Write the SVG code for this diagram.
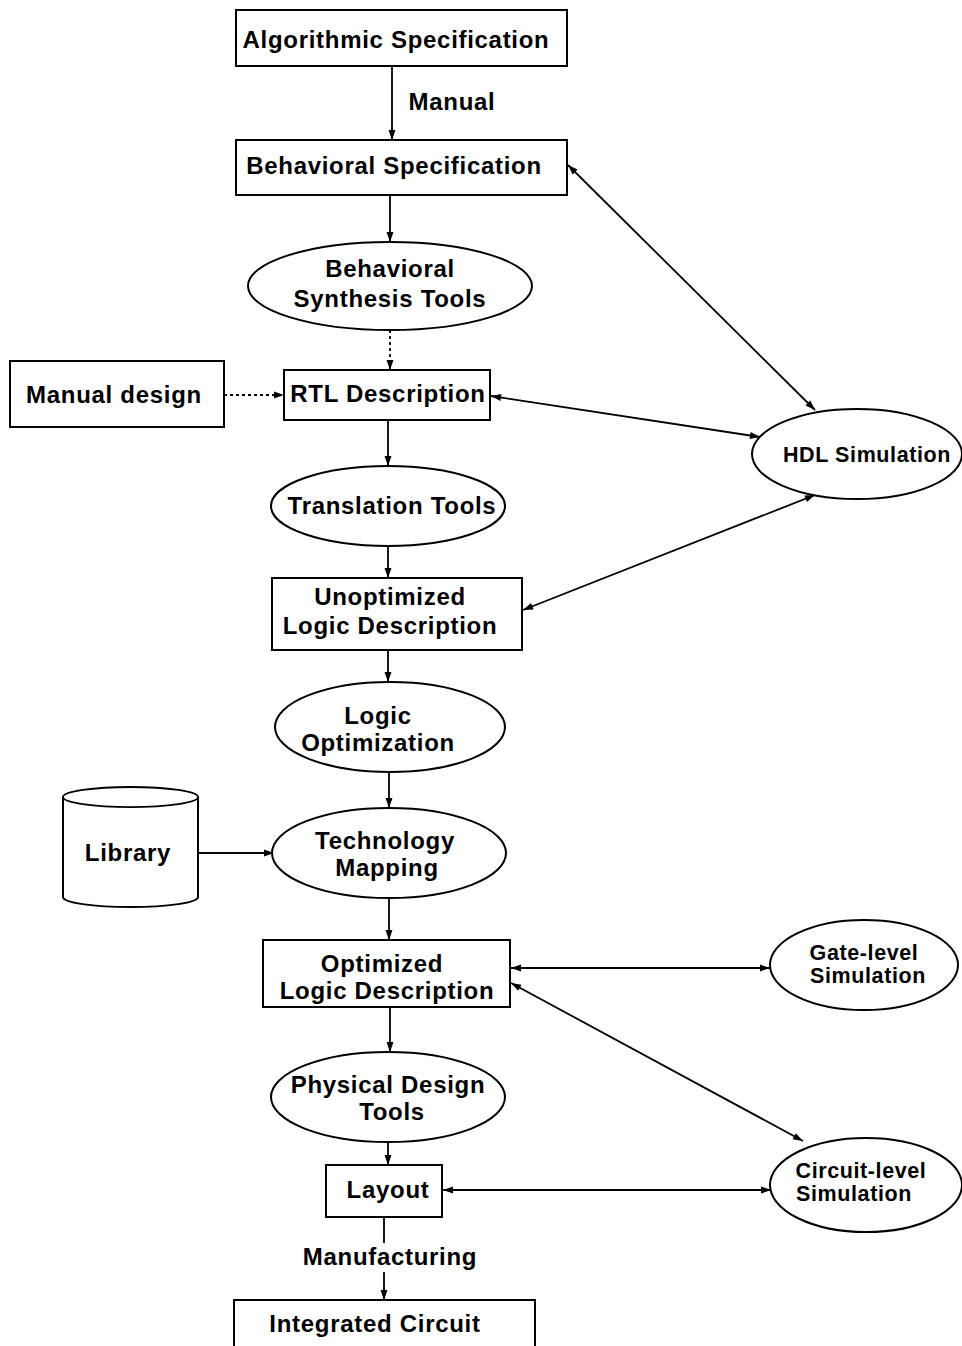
<svg xmlns="http://www.w3.org/2000/svg" width="962" height="1346" viewBox="0 0 962 1346">
<defs>
<style>
.n{fill:#fff;stroke:#000;stroke-width:2}
.t{font-family:"Liberation Sans",Arial,sans-serif;font-weight:bold;font-size:24px;letter-spacing:0.7px;fill:#000;text-anchor:middle}
.s{font-size:21.5px;letter-spacing:0.6px}
.c{fill:none;stroke:#000;stroke-width:1.8}
.d{stroke-dasharray:3,3}
</style>
<marker id="b" viewBox="0 0 10 10" refX="10" refY="5" markerWidth="15" markerHeight="10" orient="auto-start-reverse" markerUnits="userSpaceOnUse">
<path d="M0,1.5 L10,5 L0,8.5 z" fill="#000"/>
</marker>
</defs>
<rect width="962" height="1346" fill="#fff"/>
<g id="connectors">
<line class="c" x1="392" y1="66" x2="392" y2="140" marker-end="url(#b)"/>
<line class="c" x1="390" y1="195" x2="390" y2="242" marker-end="url(#b)"/>
<line class="c d" x1="390" y1="330" x2="390" y2="370" marker-end="url(#b)"/>
<line class="c d" x1="224" y1="395" x2="284" y2="395" marker-end="url(#b)"/>
<line class="c" x1="388" y1="420" x2="388" y2="466" marker-end="url(#b)"/>
<line class="c" x1="388" y1="546" x2="388" y2="578" marker-end="url(#b)"/>
<line class="c" x1="388" y1="650" x2="388" y2="682" marker-end="url(#b)"/>
<line class="c" x1="389" y1="772" x2="389" y2="808" marker-end="url(#b)"/>
<line class="c" x1="198" y1="853" x2="274" y2="853" marker-end="url(#b)"/>
<line class="c" x1="389" y1="898" x2="389" y2="940" marker-end="url(#b)"/>
<line class="c" x1="390" y1="1007" x2="390" y2="1052" marker-end="url(#b)"/>
<line class="c" x1="388" y1="1142" x2="388" y2="1165" marker-end="url(#b)"/>
<line class="c" x1="384" y1="1217" x2="384" y2="1243"/>
<line class="c" x1="384" y1="1272" x2="384" y2="1300" marker-end="url(#b)"/>
<line class="c" x1="568" y1="165" x2="815" y2="410" marker-start="url(#b)" marker-end="url(#b)"/>
<line class="c" x1="491" y1="396" x2="760" y2="437" marker-start="url(#b)" marker-end="url(#b)"/>
<line class="c" x1="523" y1="610" x2="815" y2="495" marker-start="url(#b)" marker-end="url(#b)"/>
<line class="c" x1="511" y1="968" x2="770" y2="968" marker-start="url(#b)" marker-end="url(#b)"/>
<line class="c" x1="511" y1="983" x2="803" y2="1141" marker-start="url(#b)" marker-end="url(#b)"/>
<line class="c" x1="443" y1="1190" x2="771" y2="1190" marker-start="url(#b)" marker-end="url(#b)"/>
<text class="t" x="452" y="110">Manual</text>
<text class="t" x="390" y="1265">Manufacturing</text>
</g>
<g id="algo"><rect class="n" x="236" y="10" width="331" height="56"/><text class="t" x="396" y="48">Algorithmic Specification</text></g>
<g id="behav"><rect class="n" x="236" y="140" width="331" height="55"/><text class="t" x="394" y="174">Behavioral Specification</text></g>
<g id="bst"><ellipse class="n" cx="390" cy="286" rx="142" ry="44"/><text class="t" x="390" y="277">Behavioral</text><text class="t" x="390" y="307">Synthesis Tools</text></g>
<g id="manual"><rect class="n" x="10" y="361" width="214" height="66"/><text class="t" x="114" y="403">Manual design</text></g>
<g id="rtl"><rect class="n" x="284" y="370" width="206" height="50"/><text class="t" x="388" y="402">RTL Description</text></g>
<g id="hdl"><ellipse class="n" cx="857" cy="454" rx="105" ry="45"/><text class="t s" x="867" y="462">HDL Simulation</text></g>
<g id="trans"><ellipse class="n" cx="388" cy="506" rx="117" ry="40"/><text class="t" x="392" y="514">Translation Tools</text></g>
<g id="unopt"><rect class="n" x="272" y="578" width="250" height="72"/><text class="t" x="390" y="605">Unoptimized</text><text class="t" x="390" y="634">Logic Description</text></g>
<g id="lopt"><ellipse class="n" cx="390" cy="727" rx="115" ry="45"/><text class="t" x="378" y="724">Logic</text><text class="t" x="378" y="751">Optimization</text></g>
<g id="lib"><path class="n" d="M63,797 A67,10 0 0 1 198,797 L198,897 A67,10 0 0 1 63,897 Z"/><path class="c" d="M63,797 A67,10 0 0 0 198,797"/><text class="t" x="128" y="861">Library</text></g>
<g id="tmap"><ellipse class="n" cx="389" cy="853" rx="117" ry="45"/><text class="t" x="385" y="849">Technology</text><text class="t" x="387" y="876">Mapping</text></g>
<g id="opt"><rect class="n" x="263" y="940" width="247" height="67"/><text class="t" x="382" y="972">Optimized</text><text class="t" x="387" y="999">Logic Description</text></g>
<g id="gate"><ellipse class="n" cx="864" cy="965" rx="94" ry="45"/><text class="t s" x="864" y="960">Gate-level</text><text class="t s" x="868" y="983">Simulation</text></g>
<g id="phys"><ellipse class="n" cx="388" cy="1097" rx="117" ry="45"/><text class="t" x="388" y="1093">Physical Design</text><text class="t" x="392" y="1120">Tools</text></g>
<g id="layout"><rect class="n" x="326" y="1165" width="116" height="52"/><text class="t" x="388" y="1198">Layout</text></g>
<g id="circ"><ellipse class="n" cx="866" cy="1185" rx="96" ry="47"/><text class="t s" x="861" y="1178">Circuit-level</text><text class="t s" x="854" y="1201">Simulation</text></g>
<g id="ic"><rect class="n" x="234" y="1300" width="301" height="56"/><text class="t" x="375" y="1332">Integrated Circuit</text></g>
</svg>
